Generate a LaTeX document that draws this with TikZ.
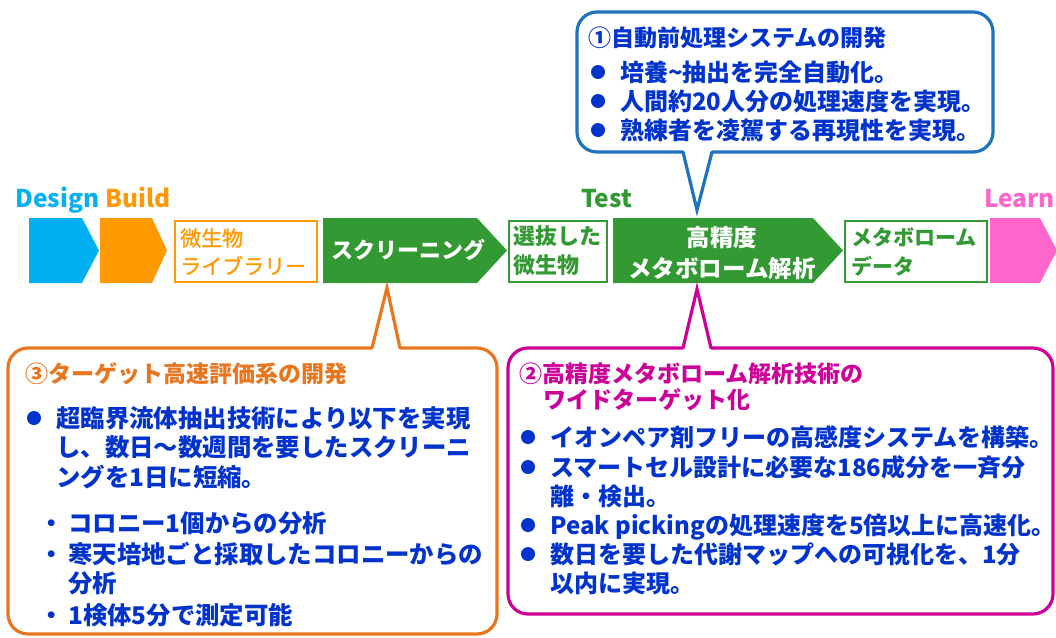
\documentclass[tikz,border=0pt]{standalone}
\usepackage{fontspec}
\newfontfamily\jp{Noto Sans CJK JP}
\newfontfamily\jpmed{Noto Sans CJK JP}[FakeBold=1.2]
\definecolor{DesignBlue}{HTML}{00B0F0}
\definecolor{BuildOrange}{HTML}{FF9900}
\definecolor{TestGreen}{HTML}{339933}
\definecolor{LearnPink}{HTML}{FF66CC}
\definecolor{CallBlue}{HTML}{1F72BD}
\definecolor{CallOrange}{HTML}{E8761E}
\definecolor{CallMagenta}{HTML}{CC0099}
\definecolor{Ink}{HTML}{0033CC}

\begin{document}
\begin{tikzpicture}[x=1pt,y=-1pt,
    phase/.style={font=\jp\bfseries\fontsize{24.5}{24.5}\selectfont,anchor=base west,inner sep=0pt},
    calltitle/.style={font=\jp\bfseries\fontsize{23}{23}\selectfont,anchor=base west,inner sep=0pt},
    itemtext/.style={font=\jp\bfseries\fontsize{24}{24}\selectfont,text=Ink,anchor=base west,inner sep=0pt},
    bigitem/.style={itemtext,font=\jp\bfseries\fontsize{24.4}{24.4}\selectfont},
    boxtext/.style={font=\jpmed\fontsize{21}{21}\selectfont,anchor=base west,inner sep=0pt},
    callout/.style={line width=3.2pt,rounded corners=20pt,line cap=round},
    tail/.style={line width=3.2pt,line join=miter}]
    \useasboundingbox (0,0) rectangle (1056,637);
    % DBTL headings
    \node[phase,text=DesignBlue] (design) at (15,207) {Design};
    \node[phase,text=BuildOrange] (build) at (105,207) {Build};
    \node[phase,text=TestGreen] (test) at (581,207) {Test};
    \node[phase,text=LearnPink] (learn) at (984,207) {Learn};
    % chevrons and boxes
    \fill[DesignBlue] (29,218)--(82,218)--(99,250.5)--(82,283)--(29,283)--cycle;
    \fill[BuildOrange] (100,218)--(152,218)--(167,250.5)--(152,283)--(100,283)--cycle;
    \draw[line width=2.6pt,BuildOrange] (175,221) rectangle (317,282);
    \node[boxtext,text=BuildOrange] (lib1) at (180,246) {微生物};
    \node[boxtext,text=BuildOrange] (lib2) at (180,274) {ライブラリー};
    \fill[TestGreen] (323,218)--(477,218)--(507,250.5)--(477,283)--(323,283)--cycle;
    \node[boxtext,font=\jp\bfseries\fontsize{22}{22}\selectfont,text=white,anchor=base] (screen) at (408,258.5) {スクリーニング};
    \draw[line width=2.6pt,TestGreen] (509,221) rectangle (607,282);
    \node[boxtext,font=\jp\bfseries\fontsize{22}{22}\selectfont,text=TestGreen] (sel1) at (513,244.5) {選抜した};
    \node[boxtext,font=\jp\bfseries\fontsize{22}{22}\selectfont,text=TestGreen] (sel2) at (513,273.5) {微生物};
    \fill[TestGreen] (613,218)--(813,218)--(843,250.5)--(813,283)--(613,283)--cycle;
    \node[boxtext,font=\jp\bfseries\fontsize{23.5}{23.5}\selectfont,text=white,anchor=base] (hp1) at (722,246) {高精度};
    \node[boxtext,font=\jp\bfseries\fontsize{23.5}{23.5}\selectfont,text=white,anchor=base] (hp2) at (722,277) {メタボローム解析};
    \draw[line width=2.6pt,TestGreen] (845,221) rectangle (987,282);
    \node[boxtext,font=\jp\bfseries\fontsize{21}{21}\selectfont,text=TestGreen] (data1) at (851,245) {メタボローム};
    \node[boxtext,font=\jp\bfseries\fontsize{21}{21}\selectfont,text=TestGreen] (data2) at (851,274) {データ};
    \fill[LearnPink] (990,218)--(1040,218)--(1057,250.5)--(1040,283)--(990,283)--cycle;
    % callout 1
    \draw[callout,CallBlue] (712,152)--(993,152)--(993,12)--(577,12)--(577,152)--(683,152);
    \draw[tail,CallBlue] (683,152)--(697,210)--(712,152);
    \node[calltitle,text=Ink] (c1t) at (588,46) {①自動前処理システムの開発};
    \fill[Ink] (598,72) circle (7pt);
    \fill[Ink] (598,101) circle (7pt);
    \fill[Ink] (598,130) circle (7pt);
    \node[itemtext] (c1a) at (620,81) {培養\textasciitilde 抽出を完全自動化。};
    \node[itemtext] (c1b) at (620,110) {人間約20人分の処理速度を実現。};
    \node[itemtext] (c1c) at (620,139) {熟練者を凌駕する再現性を実現。};
    % callout 3
    \draw[callout,CallOrange] (400,348)--(497,348)--(497,634)--(8,634)--(8,348)--(372,348);
    \draw[tail,CallOrange] (372,348)--(387,288)--(400,348);
    \node[calltitle,text=CallOrange] (c3t) at (25,382) {③ターゲット高速評価系の開発};
    \fill[Ink] (34,418) circle (7pt);
    \node[bigitem] (c3a) at (56,427) {超臨界流体抽出技術により以下を実現};
    \node[bigitem] (c3b) at (56,456) {し、数日〜数週間を要したスクリーニ};
    \node[bigitem] (c3c) at (56,486) {ングを1日に短縮。};
    \node[bigitem,anchor=base] (c3d0) at (52,532) {・};
    \node[bigitem] (c3d) at (68,532) {コロニー1個からの分析};
    \node[bigitem,anchor=base] (c3e0) at (52,563) {・};
    \node[bigitem] (c3e) at (68,563) {寒天培地ごと採取したコロニーからの};
    \node[bigitem] (c3f) at (68,592) {分析};
    \node[bigitem,anchor=base] (c3g0) at (52,624) {・};
    \node[bigitem] (c3g) at (68,624) {1検体5分で測定可能};
    % callout 2
    \draw[callout,CallMagenta] (711,348)--(1053,348)--(1053,614)--(508,614)--(508,348)--(683,348);
    \draw[tail,CallMagenta] (683,348)--(697,289)--(711,348);
    \node[calltitle,text=CallMagenta] (c2t) at (519,382) {②高精度メタボローム解析技術の};
    \node[calltitle,text=CallMagenta] (c2u) at (543,408) {ワイドターゲット化};
    \fill[Ink] (528,437) circle (7pt);
    \fill[Ink] (528,467) circle (7pt);
    \fill[Ink] (528,525) circle (7pt);
    \fill[Ink] (528,554) circle (7pt);
    \node[itemtext] (c2a) at (550,446) {イオンペア剤フリーの高感度システムを構築。};
    \node[itemtext] (c2b) at (550,476) {スマートセル設計に必要な186成分を一斉分};
    \node[itemtext] (c2c) at (550,505) {離・検出。};
    \node[itemtext] (c2d) at (550,534) {Peak pickingの処理速度を5倍以上に高速化。};
    \node[itemtext] (c2e) at (550,563) {数日を要した代謝マップへの可視化を、1分};
    \node[itemtext] (c2f) at (550,592) {以内に実現。};
  \end{tikzpicture}
\end{document}
